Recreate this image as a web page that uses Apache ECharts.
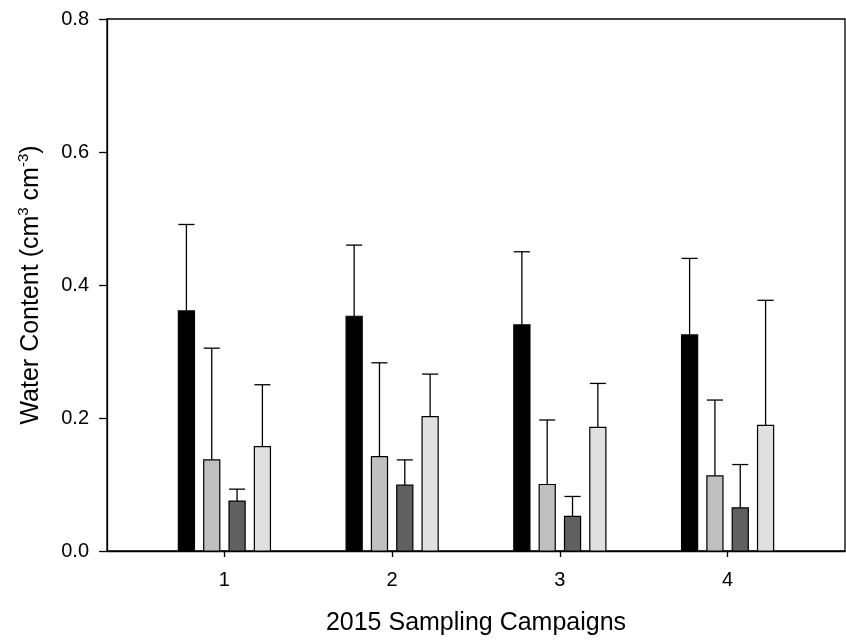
<!DOCTYPE html>
<html>
<head>
<meta charset="utf-8">
<script src="https://cdn.jsdelivr.net/npm/echarts@6/dist/echarts.min.js"></script>
<style>
html,body{margin:0;padding:0;background:#fff;}
#chart{width:846px;height:642px;}
</style>
</head>
<body>
<div id="chart"></div>
<script>
// Categories (sampling campaigns)
const categories = ['1', '2', '3', '4'];
const yTicks = [0, 0.2, 0.4, 0.6, 0.8];

// Series means (water content, cm3 cm-3)
const meanBlack = [0.361, 0.353, 0.340, 0.325];
const meanGray  = [0.137, 0.142, 0.100, 0.113];
const meanDark  = [0.075, 0.099, 0.052, 0.065];
const meanLight = [0.157, 0.202, 0.186, 0.189];

// Upper error bar sizes
const errBlack = [0.130, 0.107, 0.110, 0.115];
const errGray  = [0.168, 0.141, 0.097, 0.114];
const errDark  = [0.018, 0.038, 0.030, 0.065];
const errLight = [0.093, 0.064, 0.066, 0.188];

const seriesNames = ['Series 1', 'Series 2', 'Series 3', 'Series 4'];
const means = [meanBlack, meanGray, meanDark, meanLight];
const errs = [errBlack, errGray, errDark, errLight];
const fills = ['#000000', '#c0c0c0', '#606060', '#e0e0e0'];

const FONT = 'Arial, "Liberation Sans", sans-serif';
const PITCH = 0.151;
const HALF = 0.048;

function renderItem(params, api) {
  const cx = api.value(0);
  const mean = api.value(1);
  const sd = api.value(2);
  const s = params.seriesIndex;
  const x = cx + (s - 1.5) * PITCH;
  const p0 = api.coord([x - HALF, 0]);
  const p1 = api.coord([x + HALF, mean]);
  const mid = api.coord([x, mean]);
  const top = api.coord([x, mean + sd]);
  const ls = { stroke: '#000', lineWidth: 1.3 };
  return {
    type: 'group',
    children: [
      { type: 'line', shape: { x1: mid[0], y1: mid[1], x2: top[0], y2: top[1] }, style: ls },
      { type: 'line', shape: { x1: p0[0], y1: top[1], x2: p1[0], y2: top[1] }, style: ls },
      { type: 'rect', shape: { x: p0[0], y: p1[1], width: p1[0] - p0[0], height: p0[1] - p1[1] },
        style: { fill: fills[s], stroke: '#000', lineWidth: 1.2 } }
    ]
  };
}

const series = means.map((m, s) => ({
  type: 'custom',
  name: seriesNames[s],
  renderItem: renderItem,
  clip: false,
  encode: { x: 0, y: 1 },
  data: categories.map((c, i) => [i + 1, m[i], errs[s][i]])
}));

const chart = echarts.init(document.getElementById('chart'), null, { renderer: 'canvas' });
chart.setOption({
  animation: false,
  backgroundColor: '#fff',
  grid: { left: 107, top: 19, right: 1, bottom: 91, show: true, borderColor: '#000', borderWidth: 1.3, backgroundColor: 'transparent' },
  xAxis: {
    type: 'value',
    min: 0.3,
    max: 4.7,
    name: '2015 Sampling Campaigns',
    nameLocation: 'middle',
    nameGap: 60,
    nameTextStyle: { fontFamily: FONT, fontSize: 25, color: '#000' },
    axisLine: { show: true, lineStyle: { color: '#000', width: 1.3 } },
    axisTick: { show: true, inside: false, length: 6, customValues: [1, 2, 3, 4], lineStyle: { color: '#000', width: 1.3 } },
    axisLabel: { customValues: [1, 2, 3, 4], margin: 19, fontFamily: FONT, fontSize: 20, color: '#000',
      formatter: v => categories[Math.round(v) - 1] },
    splitLine: { show: false }
  },
  yAxis: {
    type: 'value',
    min: 0,
    max: 0.8,
    interval: 0.2,
    name: '{a|Water Content (cm}{s|3}{a| cm}{s|-3}{a|)}',
    nameLocation: 'middle',
    nameGap: 61,
    nameRotate: 90,
    nameTextStyle: {
      fontFamily: FONT, color: '#000',
      rich: {
        a: { fontFamily: FONT, fontSize: 25, color: '#000', lineHeight: 30 },
        s: { fontFamily: FONT, fontSize: 15, color: '#000', verticalAlign: 'top', lineHeight: 30, padding: [0, 0, 12, 0] }
      }
    },
    axisLine: { show: true, lineStyle: { color: '#000', width: 1.3 } },
    axisTick: { show: true, inside: false, length: 8, lineStyle: { color: '#000', width: 1.3 } },
    axisLabel: { margin: 18, fontFamily: FONT, fontSize: 20, color: '#000', formatter: v => v.toFixed(1) },
    splitLine: { show: false }
  },
  series: series
});
</script>
</body>
</html>
